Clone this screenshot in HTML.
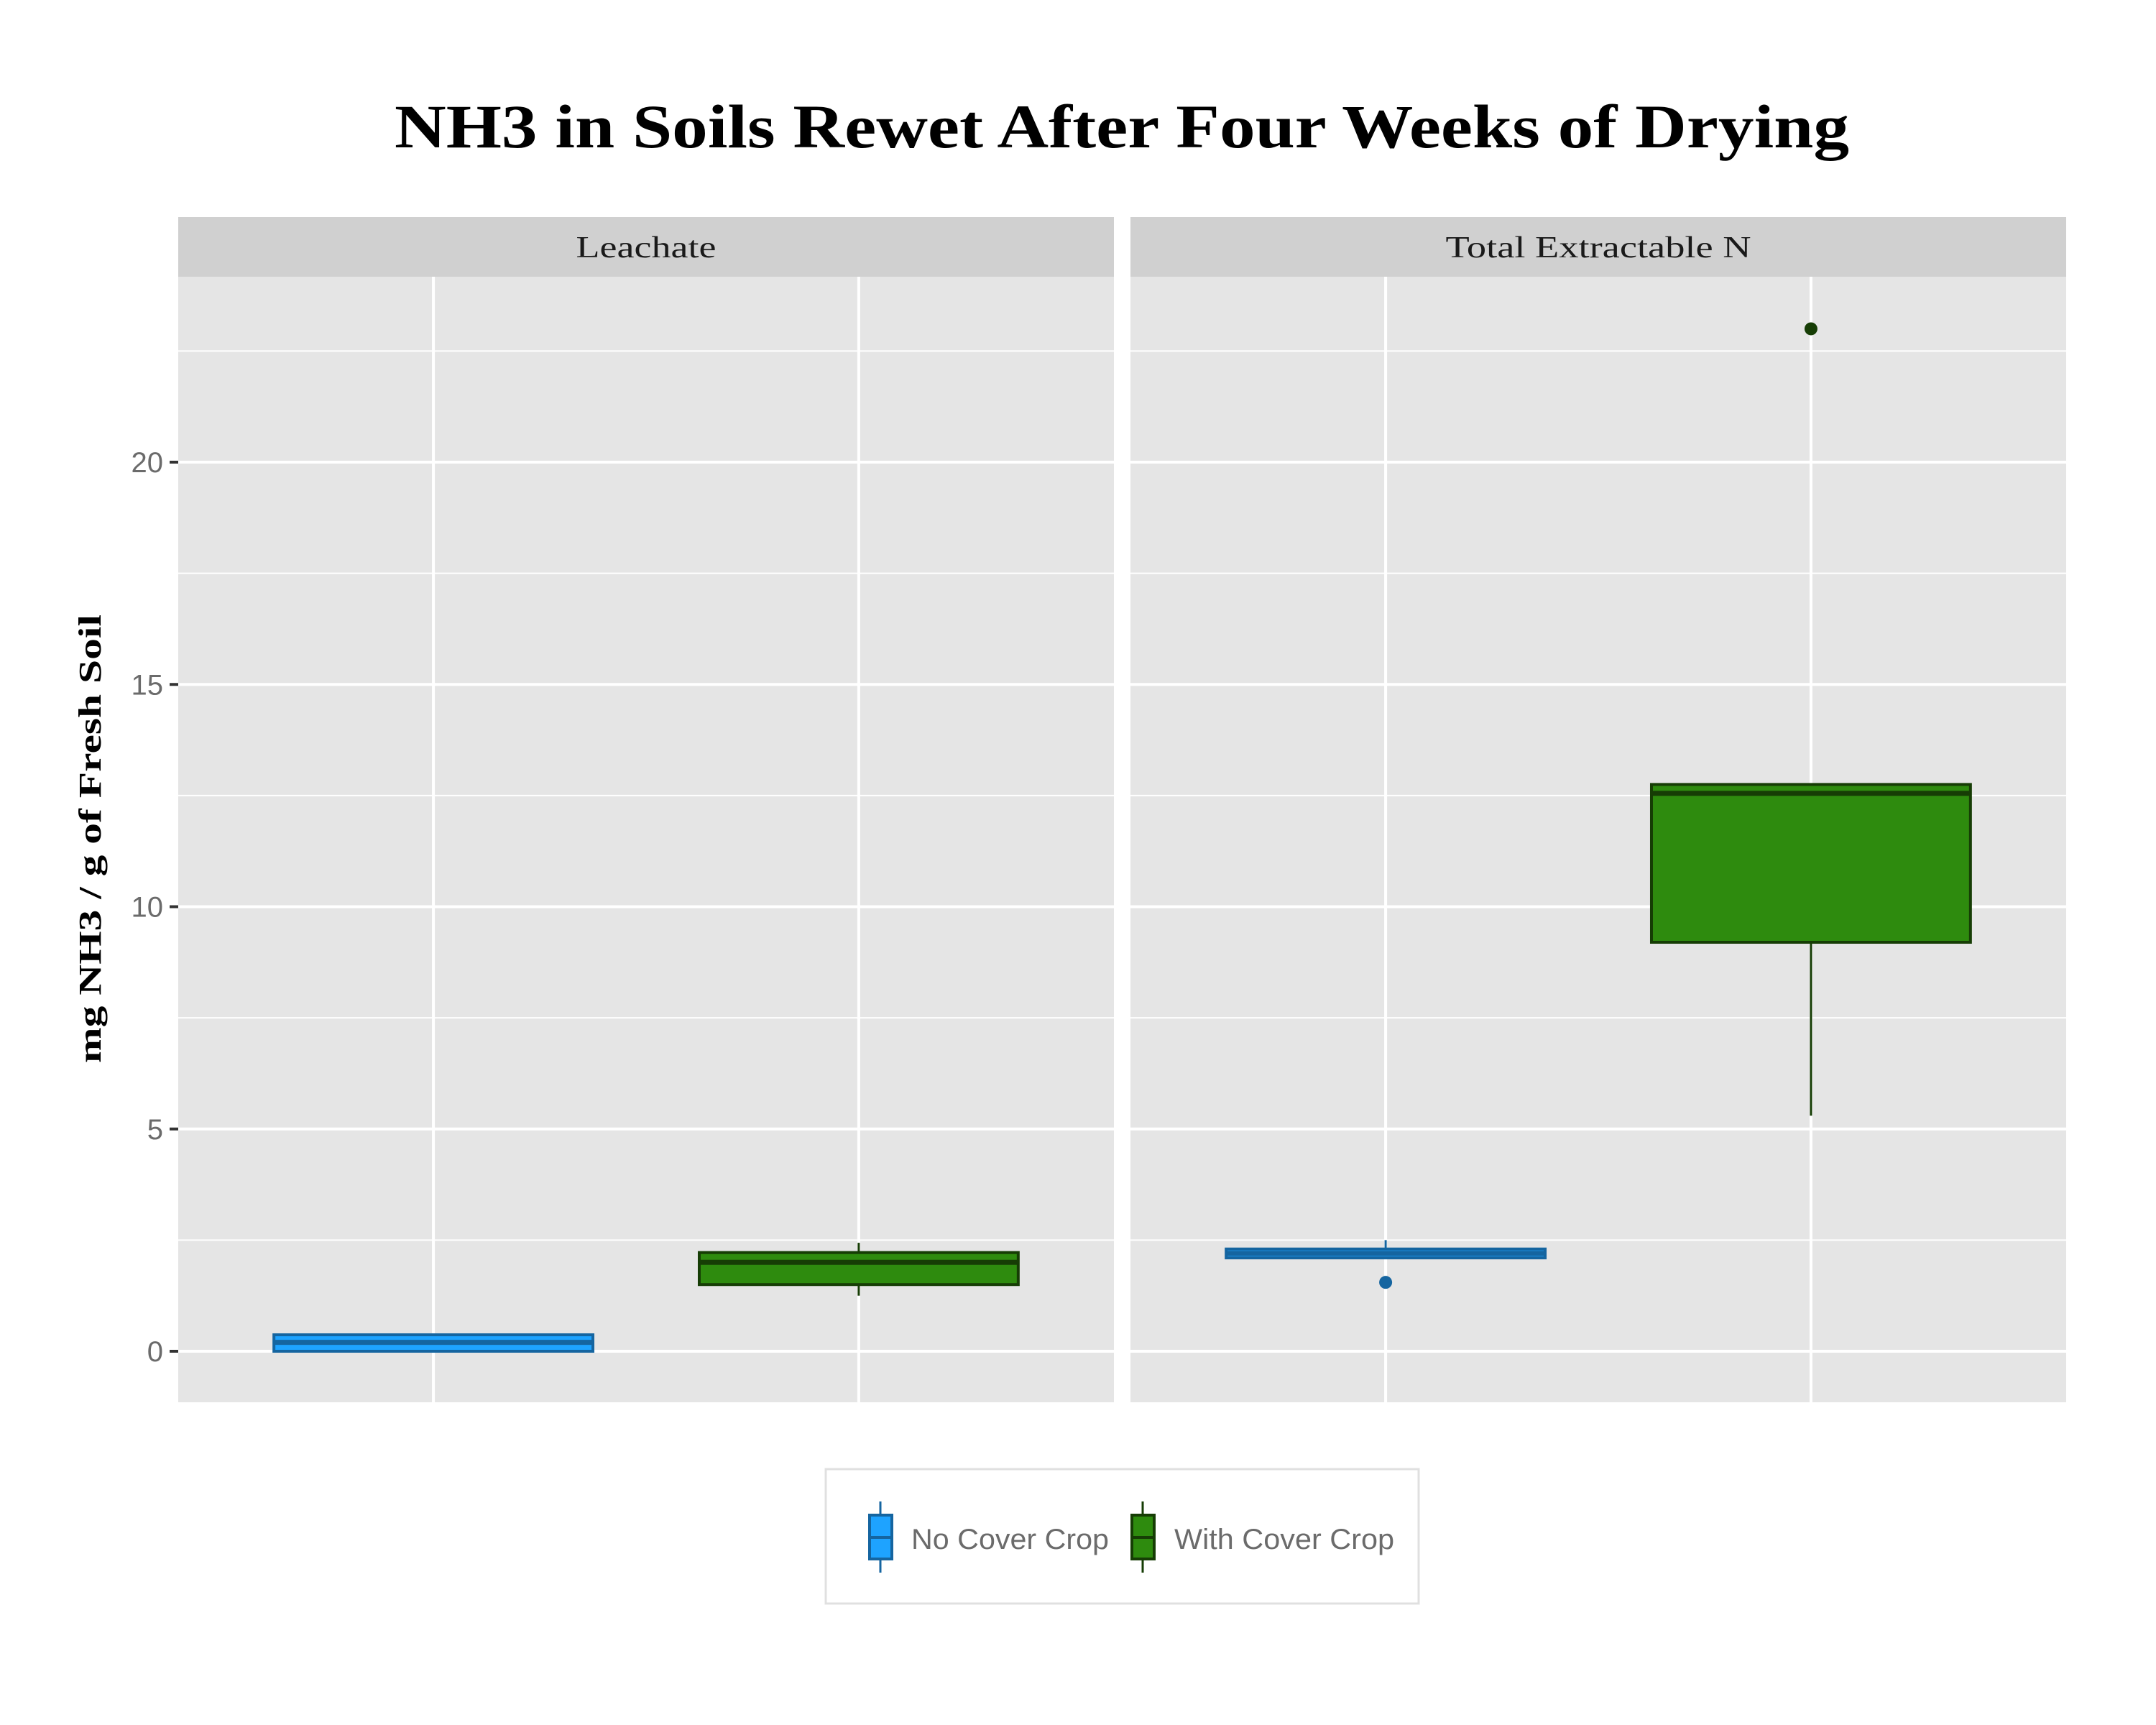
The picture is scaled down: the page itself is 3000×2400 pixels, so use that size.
<!DOCTYPE html>
<html><head><meta charset="utf-8"><style>
html,body{margin:0;padding:0;background:#fff;}
svg{display:block;}
</style></head><body>
<svg id="chart" width="3000" height="2400" xmlns="http://www.w3.org/2000/svg">
<rect width="3000" height="2400" fill="#fff"/>
<text x="1561" y="205" text-anchor="middle" textLength="2024" lengthAdjust="spacingAndGlyphs" font-family="Liberation Serif, serif" font-weight="bold" font-size="86" fill="#000">NH3 in Soils Rewet After Four Weeks of Drying</text>
<text transform="translate(140,1167) rotate(-90)" text-anchor="middle" textLength="624" lengthAdjust="spacingAndGlyphs" font-family="Liberation Serif, serif" font-weight="bold" font-size="44" fill="#000">mg NH3 / g of Fresh Soil</text>
<g id="panels"></g>
<g id="legend">
<rect x="1149" y="2044" width="825" height="187" fill="#fff" stroke="#e0e0e0" stroke-width="3"/>
<g>
<line x1="1225" y1="2089" x2="1225" y2="2188" stroke="#1565A0" stroke-width="3"/>
<rect x="1210" y="2108" width="31" height="61" fill="#1EA3FF" stroke="#1565A0" stroke-width="4"/>
<line x1="1210" y1="2139" x2="1241" y2="2139" stroke="#1565A0" stroke-width="4"/>
<text x="1268" y="2155" textLength="275" lengthAdjust="spacingAndGlyphs" font-family="Liberation Sans, sans-serif" font-size="40" fill="#6b6b6b">No Cover Crop</text>
</g>
<g>
<line x1="1590" y1="2089" x2="1590" y2="2188" stroke="#163D05" stroke-width="3"/>
<rect x="1575" y="2108" width="31" height="61" fill="#2E8B0E" stroke="#163D05" stroke-width="4"/>
<line x1="1575" y1="2139" x2="1606" y2="2139" stroke="#163D05" stroke-width="4"/>
<text x="1634" y="2155" textLength="306" lengthAdjust="spacingAndGlyphs" font-family="Liberation Sans, sans-serif" font-size="40" fill="#6b6b6b">With Cover Crop</text>
</g>
</g>
</svg>
<script>
const facets = ["Leachate", "Total Extractable N"];
const groups = ["No Cover Crop", "With Cover Crop"];
const yTicks = [0, 5, 10, 15, 20];
const yMinorTicks = [2.5, 7.5, 12.5, 17.5, 22.5];
// [facet][group]
const q1 = [[0.0, 1.5], [2.1, 9.2]];
const med = [[0.2, 2.0], [2.2, 12.55]];
const q3 = [[0.37, 2.22], [2.3, 12.75]];
const whiskLo = [[0.0, 1.25], [2.1, 5.3]];
const whiskHi = [[0.37, 2.44], [2.5, 12.75]];
const outliers = [[[], []], [[1.55], [23]]];

const NS = "http://www.w3.org/2000/svg";
const panelsG = document.getElementById("panels");
const panelX = [248, 1573], panelW = 1302, plotTop = 385, plotBot = 1951, stripTop = 302;
const stripLens = [195, 425];
const Y0 = 1880, UNIT = 61.85;
function yS(v){ return Y0 - v*UNIT; }
function xS(p, i){ return panelX[p] + (i + 1 - 0.4) / 2.2 * panelW; }
const fills = ["#1EA3FF", "#2E8B0E"], strokes = ["#1565A0", "#163D05"];
function mk(tag, attrs, parent){ const e = document.createElementNS(NS, tag); for (const k in attrs) e.setAttribute(k, attrs[k]); parent.appendChild(e); return e; }

facets.forEach((f, p) => {
  const g = mk("g", {}, panelsG);
  
  
  const bg = mk("rect", {x: panelX[p], y: plotTop, width: panelW, height: plotBot - plotTop, fill: "#e5e5e5"}, g);
  
  
  const st = mk("rect", {x: panelX[p], y: stripTop, width: panelW, height: plotTop - stripTop, fill: "#d0d0d0"}, g);
  
  
  const stt = mk("text", {x: panelX[p] + panelW/2, y: 358, "text-anchor": "middle", textLength: stripLens[p], lengthAdjust: "spacingAndGlyphs", "font-family": "Liberation Serif, serif", "font-size": "42", fill: "#1a1a1a"}, g);
  stt.textContent = f;
  
  
  yMinorTicks.forEach(v => {
    const l = mk("line", {x1: panelX[p], x2: panelX[p] + panelW, y1: yS(v), y2: yS(v), stroke: "#fff", "stroke-width": 2}, g);
    
    
  });
  yTicks.forEach(v => {
    const l = mk("line", {x1: panelX[p], x2: panelX[p] + panelW, y1: yS(v), y2: yS(v), stroke: "#fff", "stroke-width": 4}, g);
    
    
  });
  groups.forEach((gr, i) => {
    const l = mk("line", {x1: xS(p, i), x2: xS(p, i), y1: plotTop, y2: plotBot, stroke: "#fff", "stroke-width": 4}, g);
    
    
  });
  groups.forEach((gr, i) => {
    const cx = xS(p, i), hw = 0.375 / 2.2 * panelW;
    const bx = mk("g", {}, g);
    
    
    mk("line", {x1: cx, x2: cx, y1: yS(whiskHi[p][i]), y2: yS(q3[p][i]), stroke: strokes[i], "stroke-width": 3}, bx);
    mk("line", {x1: cx, x2: cx, y1: yS(q1[p][i]), y2: yS(whiskLo[p][i]), stroke: strokes[i], "stroke-width": 3}, bx);
    mk("rect", {x: cx - hw, y: yS(q3[p][i]), width: 2*hw, height: Math.max(0.5, yS(q1[p][i]) - yS(q3[p][i])), fill: fills[i], stroke: strokes[i], "stroke-width": 4}, bx);
    mk("line", {x1: cx - hw, x2: cx + hw, y1: yS(med[p][i]), y2: yS(med[p][i]), stroke: strokes[i], "stroke-width": 7}, bx);
    outliers[p][i].forEach(o => {
      const c = mk("circle", {cx: cx, cy: yS(o), r: 9, fill: strokes[i]}, bx);
      
      
    });
  });
});
const axG = mk("g", {}, panelsG);


yTicks.forEach(v => {
  mk("line", {x1: 236, x2: 248, y1: yS(v), y2: yS(v), stroke: "#333", "stroke-width": 4}, axG);
  const t = mk("text", {x: 227, y: yS(v) + 14, "text-anchor": "end", "font-family": "Liberation Sans, sans-serif", "font-size": "40", fill: "#6b6b6b"}, axG);
  t.textContent = v;
  
  
});
</script>
</body></html>
